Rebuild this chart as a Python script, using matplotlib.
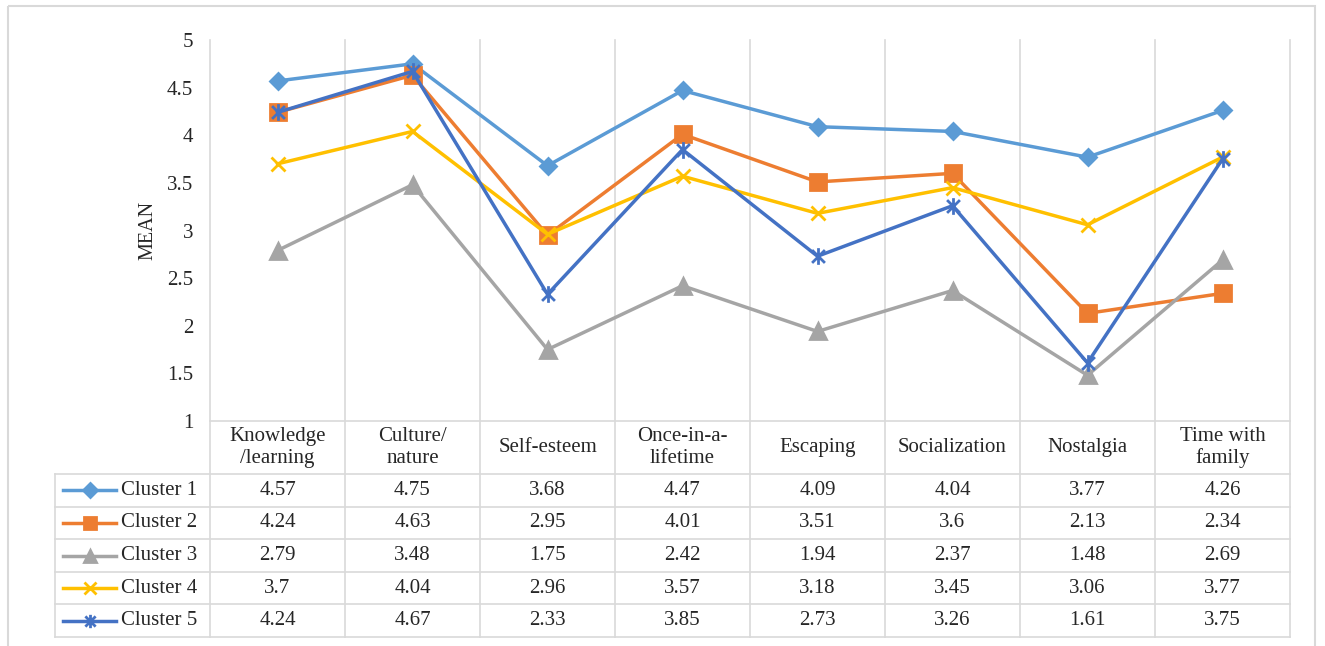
import matplotlib.pyplot as plt
from matplotlib.path import Path
from matplotlib.lines import Line2D
from matplotlib.patches import Rectangle

plt.rcParams['font.family'] = ['Liberation Serif', 'DejaVu Serif']

# data
categories = ['Knowledge\n/learning', 'Culture/\nnature', 'Self-esteem', 'Once-in-a-\nlifetime',
              'Escaping', 'Socialization', 'Nostalgia', 'Time with\nfamily']
series_names = ['Cluster 1', 'Cluster 2', 'Cluster 3', 'Cluster 4', 'Cluster 5']
cluster1 = [4.57, 4.75, 3.68, 4.47, 4.09, 4.04, 3.77, 4.26]
cluster2 = [4.24, 4.63, 2.95, 4.01, 3.51, 3.6, 2.13, 2.34]
cluster3 = [2.79, 3.48, 1.75, 2.42, 1.94, 2.37, 1.48, 2.69]
cluster4 = [3.7, 4.04, 2.96, 3.57, 3.18, 3.45, 3.06, 3.77]
cluster5 = [4.24, 4.67, 2.33, 3.85, 2.73, 3.26, 1.61, 3.75]
y_ticks = [1, 1.5, 2, 2.5, 3, 3.5, 4, 4.5, 5]

all_series = [cluster1, cluster2, cluster3, cluster4, cluster5]

# excel style asterisk marker (x with a vertical bar)
star = Path([(-1, -1), (1, 1), (-1, 1), (1, -1), (0, -1.3), (0, 1.3)],
            [Path.MOVETO, Path.LINETO, Path.MOVETO, Path.LINETO, Path.MOVETO, Path.LINETO])

colors = ['#5B9BD5', '#ED7D31', '#A5A5A5', '#FFC000', '#4472C4']
markers = ['D', 's', '^', 'x', star]
msizes = [8.5, 11, 11, 10, 12]

text_col = '#262626'
grid_col = '#D9D9D9'
fs = 15

# layout in pixels
W, H = 1325, 646
L, R = 210, 1290        # plot / table columns
TOP, BOT = 40, 421      # plot area
TL = 55                 # table left edge
HDR = 474               # bottom of category header row
TB = 637                # table bottom
n = len(categories)
cw = (R - L) / n
row_edges = [HDR + i * (TB - HDR) / 5 for i in range(6)]

fig = plt.figure(figsize=(W / 100, H / 100), dpi=100)

# overlay for table, grid and border (pixel coords)
ov = fig.add_axes([0, 0, 1, 1], zorder=0)
ov.set_xlim(0, W)
ov.set_ylim(H, 0)
ov.axis('off')

ax = fig.add_axes([L / W, 1 - BOT / H, (R - L) / W, (BOT - TOP) / H], zorder=1)
ax.set_facecolor('none')

xs = [i + 0.5 for i in range(n)]
for vals, c, m, ms in zip(all_series, colors, markers, msizes):
    ax.plot(xs, vals, color=c, lw=2.5, marker=m, ms=ms, mec=c, mfc=c, mew=2)

ax.set_xlim(0, n)
ax.set_ylim(1, 5)
ax.set_yticks(y_ticks)
ax.set_yticklabels([f'{t:g}' for t in y_ticks], fontsize=fs, color=text_col)
ax.tick_params(axis='y', length=0, pad=12)
ax.set_xticks([])
for s in ax.spines.values():
    s.set_visible(False)

# border around whole chart
ov.add_patch(Rectangle((8, 6), 1307, 700, fill=False, ec=grid_col, lw=1.5))

# vertical lines through plot and table
for i in range(n + 1):
    ov.plot([L + i * cw, L + i * cw], [TOP, TB], color=grid_col, lw=1.2)
ov.plot([L, R], [BOT, BOT], color=grid_col, lw=1.2)
for y in row_edges:
    ov.plot([TL, R], [y, y], color=grid_col, lw=1.2)
ov.plot([TL, TL], [HDR, TB], color=grid_col, lw=1.2)

# category header
for i, cat in enumerate(categories):
    ov.text(L + (i + 0.5) * cw, (BOT + HDR) / 2, cat, ha='center', va='center',
            fontsize=fs, color=text_col, linespacing=1.15, multialignment='center')

# table rows with legend keys
for r, (name, vals) in enumerate(zip(series_names, all_series)):
    yc = (row_edges[r] + row_edges[r + 1]) / 2
    ov.add_line(Line2D([63, 116], [yc, yc], color=colors[r], lw=2.5))
    ov.plot([89.5], [yc], marker=markers[r], ms=msizes[r] * 0.8, color=colors[r],
            mec=colors[r], mew=2)
    ov.text(121, yc, name, ha='left', va='center', fontsize=fs, color=text_col)
    for i, v in enumerate(vals):
        ov.text(L + (i + 0.5) * cw, yc, str(v), ha='center', va='center',
                fontsize=fs, color=text_col)

ov.text(148, (TOP + BOT) / 2, 'MEAN', rotation=90, ha='center', va='center',
        fontsize=fs - 0.5, color=text_col)

fig.savefig('out.png', dpi=100)
